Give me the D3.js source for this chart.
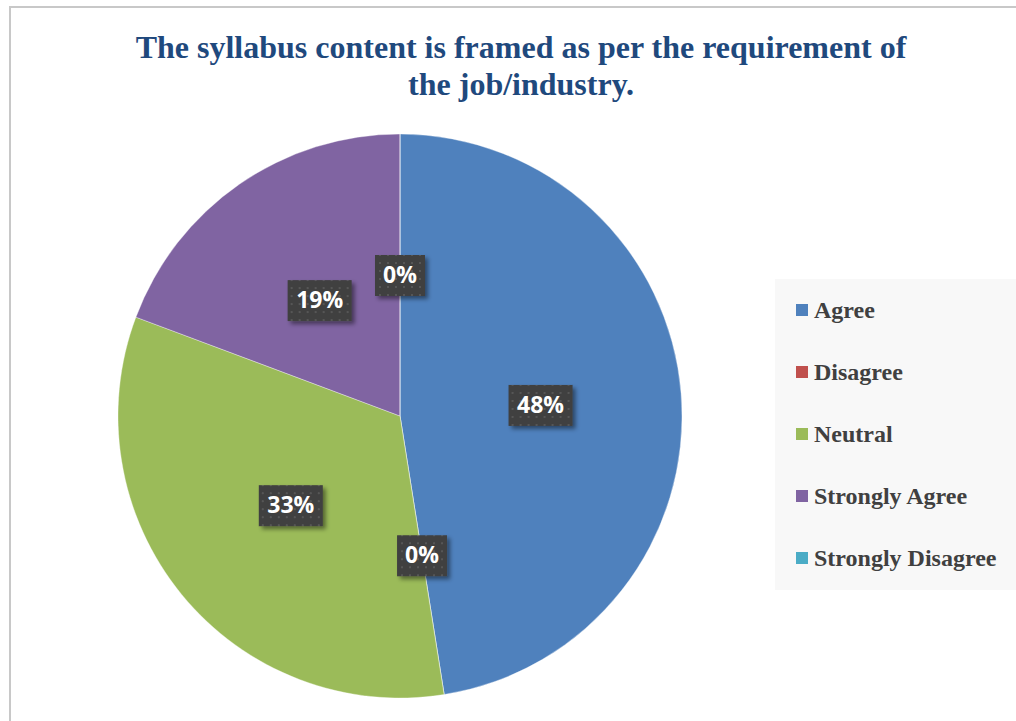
<!DOCTYPE html>
<html>
<head>
<meta charset="utf-8">
<script src="https://cdn.jsdelivr.net/npm/d3@7"></script>
<style>
  body { margin: 0; background: #fff; }
  svg { display: block; }
</style>
</head>
<body>
<svg id="chart"></svg>
<script>
const categories = ["Agree", "Disagree", "Neutral", "Strongly Agree", "Strongly Disagree"]
const shares = [47.5, 0, 33.2, 19.3, 0]
const colors = ["#4F81BD", "#C0504D", "#9BBB59", "#8064A2", "#4BACC6"]
const titleLines = ["The syllabus content is framed as per the requirement of", "the job/industry."]

const w = 1016
const h = 721
const cx = 400
const cy = 416
const radius = 282

const svg = d3.select("#chart")
    .attr("width", w)
    .attr("height", h)

const defs = svg.append("defs")
const pat = defs.append("pattern")
    .attr("id", "dots")
    .attr("width", 8)
    .attr("height", 8)
    .attr("patternUnits", "userSpaceOnUse")
pat.append("rect").attr("width", 8).attr("height", 8).attr("fill", "#3f3f3f")
pat.append("rect").attr("x", 3).attr("y", 3).attr("width", 2).attr("height", 2).attr("fill", "#575757")

const shadow = defs.append("filter")
    .attr("id", "shadow")
    .attr("x", "-20%").attr("y", "-20%")
    .attr("width", "150%").attr("height", "160%")
shadow.append("feDropShadow")
    .attr("dx", 3).attr("dy", 3)
    .attr("stdDeviation", 2)
    .attr("flood-color", "#000")
    .attr("flood-opacity", 0.45)

// frame
svg.append("path")
    .attr("d", `M10,${h} L10,7 L${w},7`)
    .attr("fill", "none")
    .attr("stroke", "#c8c8c8")
    .attr("stroke-width", 2)

// title
svg.append("text")
    .attr("x", 521)
    .attr("y", 58)
    .attr("text-anchor", "middle")
    .style("font-family", "'Liberation Serif', 'Times New Roman', serif")
    .style("font-weight", "bold")
    .style("font-size", "32px")
    .style("fill", "#1F497D")
    .selectAll("tspan")
    .data(titleLines)
    .enter()
    .append("tspan")
    .attr("x", 521)
    .attr("dy", (d, i) => i === 0 ? 0 : 37)
    .text(d => d)

const data = categories.map((c, i) => ({ name: c, value: shares[i], color: colors[i] }))

const pie = d3.pie()
    .sort(null)
    .value(d => d.value)
const arcs = pie(data)
const arc = d3.arc().innerRadius(0).outerRadius(radius)
const labelArc = d3.arc().innerRadius(0).outerRadius(radius)

const g = svg.append("g").attr("transform", `translate(${cx}, ${cy})`)

g.selectAll("path.slice")
    .data(arcs)
    .enter()
    .append("path")
    .attr("class", "slice")
    .attr("d", arc)
    .attr("fill", d => d.data.color)
    .attr("stroke", "rgba(255,255,255,0.35)")
    .attr("stroke-width", 1)

const total = d3.sum(shares)
const pct = d => Math.round(d.data.value / total * 100)
const labels = g.selectAll("g.label")
    .data(arcs)
    .enter()
    .append("g")
    .attr("class", "label")
    .attr("transform", d => {
        const [x, y] = labelArc.centroid(d)
        return `translate(${x}, ${y})`
    })

labels.append("rect")
    .attr("x", d => pct(d) >= 10 ? -32 : -25)
    .attr("y", -20)
    .attr("width", d => pct(d) >= 10 ? 64 : 50)
    .attr("height", 41)
    .attr("fill", "url(#dots)")
    .attr("filter", "url(#shadow)")

labels.append("text")
    .attr("text-anchor", "middle")
    .attr("y", 8)
    .style("font-family", "'Open Sans', sans-serif")
    .style("font-weight", "bold")
    .style("font-size", "23px")
    .style("fill", "#fff")
    .text(d => pct(d) + "%")

// legend
const legend = svg.append("g").attr("transform", "translate(775, 279)")
legend.append("rect")
    .attr("width", w - 775)
    .attr("height", 311)
    .attr("fill", "#f8f8f8")

const item = legend.selectAll("g.item")
    .data(data)
    .enter()
    .append("g")
    .attr("class", "item")
    .attr("transform", (d, i) => `translate(0, ${31 + i * 62})`)

item.append("rect")
    .attr("x", 21)
    .attr("y", -6)
    .attr("width", 12)
    .attr("height", 12)
    .attr("fill", d => d.color)

item.append("text")
    .attr("x", 39)
    .attr("y", 8)
    .style("font-family", "'Liberation Serif', 'Times New Roman', serif")
    .style("font-weight", "bold")
    .style("font-size", "24px")
    .style("fill", "#404040")
    .text(d => d.name)
</script>
</body>
</html>
